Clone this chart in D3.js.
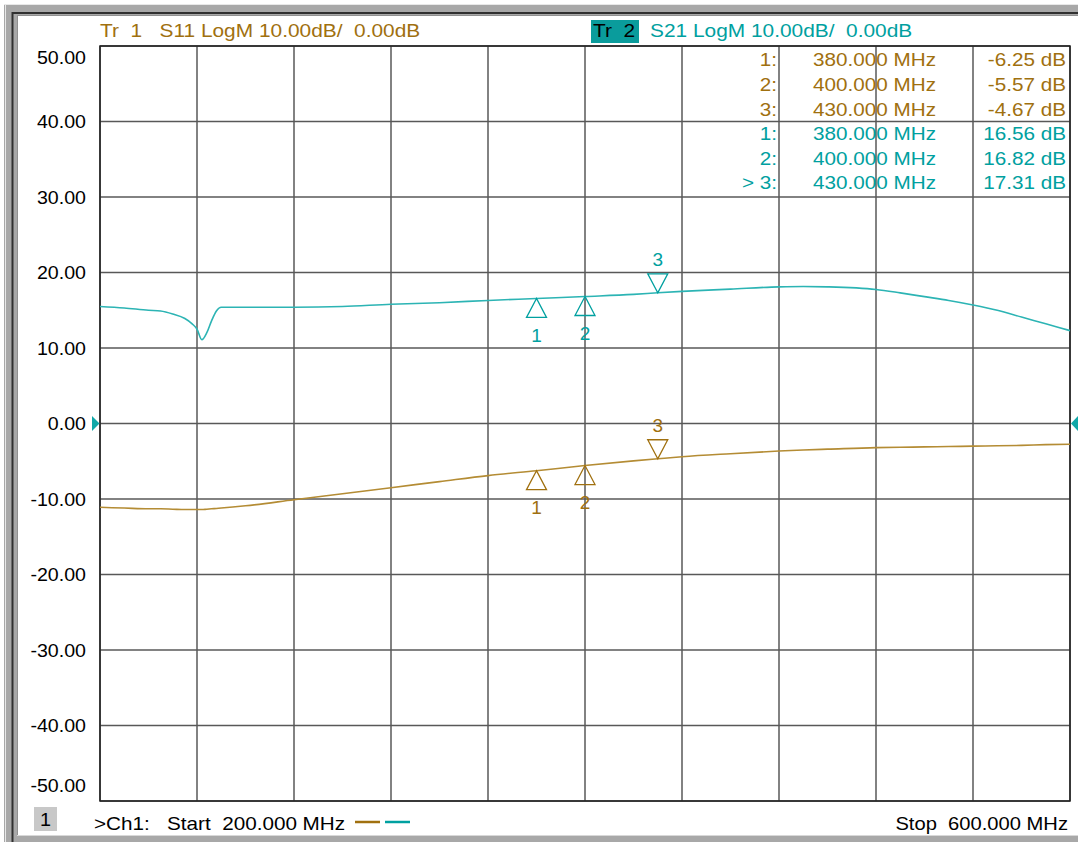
<!DOCTYPE html>
<html>
<head>
<meta charset="utf-8">
<script src="https://cdn.jsdelivr.net/npm/d3@7"></script>
<style>
  html, body { margin: 0; padding: 0; background: #ffffff; }
  svg { display: block; }
  text { font-family: "Liberation Sans", Arial, sans-serif; }
</style>
</head>
<body>
<svg id="chart" width="1078" height="842"></svg>
<script>
// ---- Sweep data (frequency in MHz, magnitude in dB) ----
const freqMHz = [200, 210, 220, 225, 230, 235, 238, 240, 242, 244, 246, 248, 250, 260, 280, 300, 320, 340, 360, 380, 400, 420, 430, 440, 460, 480, 490, 500, 520, 530, 540, 550, 560, 570, 580, 590, 600];
const s21dB = [15.5, 15.3, 15.0, 14.9, 14.5, 13.9, 13.2, 12.5, 11.1, 12.0, 13.6, 14.9, 15.4, 15.4, 15.4, 15.5, 15.8, 16.0, 16.3, 16.56, 16.82, 17.1, 17.31, 17.5, 17.8, 18.1, 18.15, 18.1, 17.75, 17.3, 16.8, 16.3, 15.7, 15.0, 14.1, 13.2, 12.3];
const s11dB = [-11.1, -11.2, -11.3, -11.3, -11.35, -11.4, -11.4, -11.4, -11.4, -11.35, -11.3, -11.25, -11.2, -10.9, -10.1, -9.3, -8.5, -7.7, -6.9, -6.25, -5.57, -4.95, -4.67, -4.4, -4.0, -3.65, -3.5, -3.4, -3.2, -3.15, -3.1, -3.05, -3.0, -2.95, -2.9, -2.8, -2.75];

// ---- Markers ----
const markerIds = ["1", "2", "3"];
const markerFreqs = [380, 400, 430];
const s11MarkerVals = [-6.25, -5.57, -4.67];
const s21MarkerVals = [16.56, 16.82, 17.31];
const activeMarker = "3";

// ---- Axes ----
const gridFreqs = [200, 240, 280, 320, 360, 400, 440, 480, 520, 560, 600];
const dbTicks = [50, 40, 30, 20, 10, 0, -10, -20, -30, -40, -50];

// ---- Annotation text ----
const tr1Label = "Tr  1   S11 LogM 10.00dB/  0.00dB";
const tr2Tag = "Tr  2";
const tr2Label = "S21 LogM 10.00dB/  0.00dB";
const channelLabel = ">Ch1:   Start  200.000 MHz";
const stopLabel = "Stop  600.000 MHz";

const BROWN = "#a0700f";
const TEAL = "#00a0a0";
const BROWN_LINE = "#b48c34";
const TEAL_LINE = "#2cb4b4";

// plain hyphen-minus, as on the analyzer display
const locale = d3.formatLocale({ decimal: ".", thousands: ",", grouping: [3], currency: ["", ""], minus: "-" });
const fmt2 = locale.format(".2f");
const fmt3 = locale.format(".3f");

const svg = d3.select("#chart");
const W = 1078, H = 842;
const plot = { left: 100, right: 1070, top: 46, bottom: 801 };

const x = d3.scaleLinear().domain([200, 600]).range([plot.left, plot.right]);
const y = d3.scaleLinear().domain([-50, 50]).range([plot.bottom, plot.top]);

// Horizontally widened text, like the analyzer's screen font
function addText(g, str, px, py, opts) {
  return g.append("text")
    .attr("transform", `translate(${px},${py}) scale(${opts.sx || 1.15},1)`)
    .attr("x", 0).attr("y", 0)
    .attr("dominant-baseline", "central")
    .attr("font-size", opts.size || 18)
    .attr("fill", opts.fill || "#000")
    .attr("text-anchor", opts.anchor || "start")
    .style("white-space", "pre")
    .text(str);
}

// ---- Window frame ----
const frame = svg.append("g");
frame.append("rect").attr("x", 4).attr("y", 4).attr("width", W - 4).attr("height", H - 4)
  .attr("fill", "#a8a8a8");
frame.append("rect").attr("x", 17).attr("y", 15).attr("width", W - 17).attr("height", H - 22)
  .attr("fill", "#ffffff");
frame.append("line").attr("x1", 5.5).attr("x2", 5.5).attr("y1", 4).attr("y2", H)
  .attr("stroke", "#e8e8e8").attr("stroke-width", 1);
frame.append("line").attr("x1", 4).attr("x2", W).attr("y1", 4.5).attr("y2", 4.5)
  .attr("stroke", "#e8e8e8").attr("stroke-width", 1);
frame.append("line").attr("x1", 12.5).attr("x2", 12.5).attr("y1", 12).attr("y2", H)
  .attr("stroke", "#303030").attr("stroke-width", 2);
frame.append("line").attr("x1", 12).attr("x2", W).attr("y1", 13).attr("y2", 13)
  .attr("stroke", "#303030").attr("stroke-width", 2);
frame.append("line").attr("x1", 17.5).attr("x2", 17.5).attr("y1", 15).attr("y2", H - 7)
  .attr("stroke", "#909090").attr("stroke-width", 1);
frame.append("line").attr("x1", 17).attr("x2", W).attr("y1", 15.5).attr("y2", 15.5)
  .attr("stroke", "#909090").attr("stroke-width", 1);
frame.append("line").attr("x1", 17).attr("x2", W).attr("y1", H - 6.5).attr("y2", H - 6.5)
  .attr("stroke", "#d8d8d8").attr("stroke-width", 1);

// ---- Grid ----
const grid = svg.append("g");
grid.selectAll("line.v").data(gridFreqs).join("line")
  .attr("x1", d => x(d)).attr("x2", d => x(d))
  .attr("y1", plot.top).attr("y2", plot.bottom)
  .attr("stroke", "#585858").attr("stroke-width", 1.5);
grid.selectAll("line.h").data(dbTicks).join("line")
  .attr("x1", plot.left).attr("x2", plot.right)
  .attr("y1", d => y(d)).attr("y2", d => y(d))
  .attr("stroke", "#585858").attr("stroke-width", 1.5);
grid.append("rect")
  .attr("x", plot.left).attr("y", plot.top)
  .attr("width", plot.right - plot.left).attr("height", plot.bottom - plot.top)
  .attr("fill", "none").attr("stroke", "#202020").attr("stroke-width", 1.5);

// ---- Y axis labels ----
const yAxis = svg.append("g")
  .attr("transform", `translate(86,0)`)
  .call(d3.axisLeft(y).tickValues(dbTicks).tickFormat(fmt2).tickSize(0).tickPadding(0));
yAxis.select(".domain").remove();
yAxis.selectAll("text")
  .attr("font-family", "'Liberation Sans', Arial, sans-serif")
  .attr("font-size", 18.5)
  .attr("fill", "#000")
  .attr("dy", "0.35em")
  .attr("transform", d => {
    const shift = d === 50 ? 11 : d === -50 ? -16 : 0;
    return `translate(0,${shift}) scale(1.06,1)`;
  })
  .attr("x", 0);

// ---- Reference level arrows ----
svg.append("path")
  .attr("d", `M${plot.left - 8},${y(0) - 7.5} L${plot.left - 0.5},${y(0)} L${plot.left - 8},${y(0) + 7.5} Z`)
  .attr("fill", "#10a8a8");
svg.append("path")
  .attr("d", `M${W},${y(0) - 7.5} L${plot.right + 1},${y(0)} L${W},${y(0) + 7.5} Z`)
  .attr("fill", "#10a8a8");

// ---- Traces ----
const traceLine = vals => d3.line()
  .x((d, i) => x(freqMHz[i]))
  .y(d => y(d))
  .curve(d3.curveMonotoneX)(vals);

svg.append("path").attr("d", traceLine(s11dB))
  .attr("fill", "none").attr("stroke", BROWN_LINE).attr("stroke-width", 1.6);
svg.append("path").attr("d", traceLine(s21dB))
  .attr("fill", "none").attr("stroke", TEAL_LINE).attr("stroke-width", 1.6);

// ---- Marker triangles ----
function drawMarkers(vals, color) {
  const g = svg.append("g");
  markerIds.forEach((id, i) => {
    const mx = x(markerFreqs[i]);
    const my = y(vals[i]);
    const w = 10, h = 19;
    const up = id !== activeMarker;
    const dir = up ? 1 : -1;
    g.append("path")
      .attr("d", `M${mx},${my} L${mx - w},${my + dir * h} L${mx + w},${my + dir * h} Z`)
      .attr("fill", "none").attr("stroke", color).attr("stroke-width", 1.3);
    g.append("text").attr("x", mx).attr("y", up ? my + h + 18 : my - h - 14)
      .attr("text-anchor", "middle").attr("dominant-baseline", "central")
      .attr("font-size", 19).attr("fill", color).text(id);
  });
}
drawMarkers(s11MarkerVals, BROWN);
drawMarkers(s21MarkerVals, TEAL);

// ---- Trace headers ----
const header = svg.append("g");
addText(header, tr1Label, 100, 31, { fill: BROWN, size: 18, sx: 1.16 });
header.append("rect").attr("x", 591).attr("y", 20).attr("width", 48).attr("height", 23)
  .attr("fill", "#0a9c9c");
addText(header, tr2Tag, 593, 31, { fill: "#000", size: 18, sx: 1.16 });
addText(header, tr2Label, 650, 31, { fill: TEAL, size: 18, sx: 1.16 });

// ---- Marker readout table ----
const table = svg.append("g");
const rowY0 = 60, rowStep = 24.6;
const rows = [];
markerIds.forEach((id, i) => rows.push({ id, f: markerFreqs[i], v: s11MarkerVals[i], color: BROWN, active: false }));
markerIds.forEach((id, i) => rows.push({ id, f: markerFreqs[i], v: s21MarkerVals[i], color: TEAL, active: id === activeMarker }));
rows.forEach((r, k) => {
  const ry = rowY0 + k * rowStep;
  addText(table, (r.active ? "> " : "") + r.id + ":", 777, ry, { fill: r.color, anchor: "end", size: 18, sx: 1.15 });
  addText(table, fmt3(r.f) + " MHz", 936, ry, { fill: r.color, anchor: "end", size: 18, sx: 1.15 });
  addText(table, fmt2(r.v) + " dB", 1066, ry, { fill: r.color, anchor: "end", size: 18, sx: 1.15 });
});

// ---- Footer ----
const footer = svg.append("g");
footer.append("rect").attr("x", 34).attr("y", 807).attr("width", 23).attr("height", 24)
  .attr("fill", "#c8c8c8");
addText(footer, "1", 45.5, 820, { anchor: "middle", size: 18, sx: 1.1 });
addText(footer, channelLabel, 94, 824, { size: 18, sx: 1.15 });
footer.append("line").attr("x1", 355).attr("x2", 380).attr("y1", 822).attr("y2", 822)
  .attr("stroke", BROWN).attr("stroke-width", 2.5);
footer.append("line").attr("x1", 385).attr("x2", 410).attr("y1", 822).attr("y2", 822)
  .attr("stroke", TEAL).attr("stroke-width", 2.5);
addText(footer, stopLabel, 1068, 824, { anchor: "end", size: 18, sx: 1.12 });
</script>
</body>
</html>
